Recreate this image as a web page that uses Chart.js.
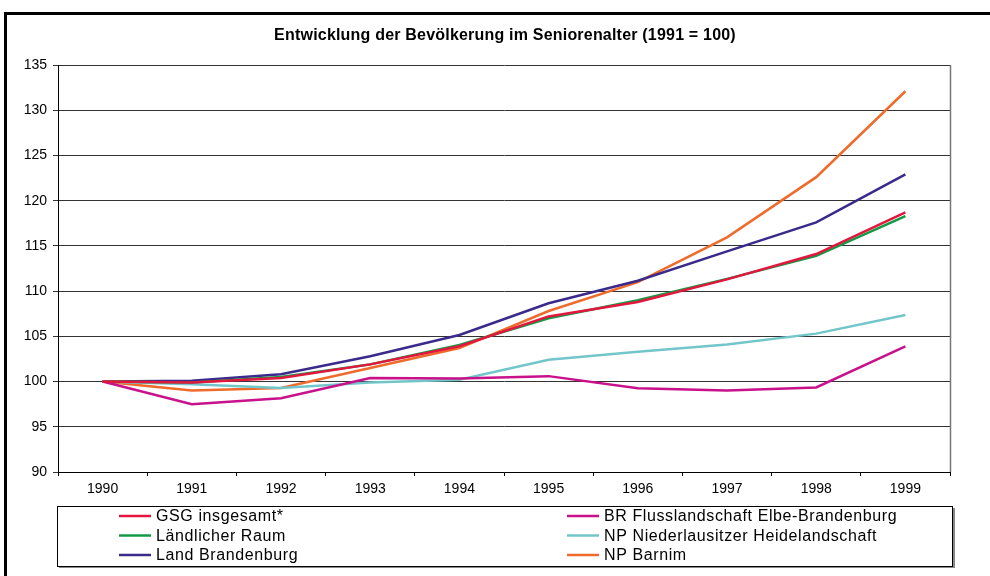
<!DOCTYPE html>
<html lang="de">
<head>
    <meta charset="UTF-8">
    <title>Entwicklung der Bevölkerung im Seniorenalter</title>
    <script src="https://cdn.jsdelivr.net/npm/chart.js"></script>
    <style>
        html, body {
            margin: 0;
            padding: 0;
            background: white;
        }
        .chart-box {
            position: relative;
            width: 990px;
            height: 576px;
        }
    </style>
</head>
<body>
    <div class="chart-box">
        <canvas id="seniorChart" width="990" height="576"></canvas>
    </div>

    <script>
        // data (1991 = 100)
        const years = ['1990', '1991', '1992', '1993', '1994', '1995', '1996', '1997', '1998', '1999'];
        const yTicks = [90, 95, 100, 105, 110, 115, 120, 125, 130, 135];

        const gsgTotal       = [100, 99.9, 100.4, 101.9, 103.9, 107.2, 108.8, 111.3, 114.1, 118.7];
        const brElbe         = [100, 97.5, 98.15, 100.4, 100.35, 100.6, 99.25, 99.0, 99.35, 103.9];
        const laendlRaum     = [100, 99.9, 100.5, 101.9, 104.05, 107.0, 109.0, 111.35, 113.9, 118.3];
        const npNiederlausitz = [100, 99.7, 99.3, 99.9, 100.2, 102.4, 103.3, 104.1, 105.3, 107.35];
        const landBrandenburg = [100, 100.1, 100.8, 102.8, 105.15, 108.65, 111.15, 114.4, 117.6, 122.9];
        const npBarnim       = [100, 99.0, 99.3, 101.5, 103.7, 107.8, 111.0, 115.95, 122.6, 132.1];

        const seriesNames = [
            'GSG insgesamt*', 'BR Flusslandschaft Elbe-Brandenburg',
            'Ländlicher Raum', 'NP Niederlausitzer Heidelandschaft',
            'Land Brandenburg', 'NP Barnim'
        ];
        const seriesData = [gsgTotal, brElbe, laendlRaum, npNiederlausitz, landBrandenburg, npBarnim];
        const seriesColors = ['#e3163e', '#c8118a', '#139a45', '#72c6ca', '#3b2a8c', '#ee6b2b'];

        const FONT = "'Liberation Sans', Arial, sans-serif";

        // frame, title, plot border and legend box
        const decorations = {
            id: 'decorations',
            beforeDraw(chart) {
                const c = chart.ctx;
                c.save();
                c.fillStyle = '#000';
                c.fillRect(4, 12, 3, 564);
                c.fillRect(4, 12, 986, 3);
                c.restore();
            },
            afterDraw(chart) {
                const c = chart.ctx;
                const a = chart.chartArea;
                c.save();
                // right border of the plot
                c.strokeStyle = '#777';
                c.lineWidth = 1.5;
                c.beginPath();
                c.moveTo(a.right + 0.5, a.top);
                c.lineTo(a.right + 0.5, a.bottom);
                c.stroke();

                // title
                c.fillStyle = '#000';
                c.font = 'bold 16px ' + FONT;
                c.letterSpacing = '0.2px';
                c.textAlign = 'center';
                c.textBaseline = 'middle';
                c.fillText('Entwicklung der Bevölkerung im Seniorenalter (1991 = 100)', 505, 36);

                // legend box with shadow
                c.fillStyle = '#888';
                c.fillRect(59, 566, 895, 2);
                c.fillRect(953, 508, 2, 60);
                c.strokeStyle = '#000';
                c.lineWidth = 1;
                c.strokeRect(57.5, 506.5, 895, 60);

                c.font = '16px ' + FONT;
                c.letterSpacing = '0.6px';
                c.textAlign = 'left';
                const colX = [119, 567];
                const rowY = [516, 535.5, 555];
                chart.data.datasets.forEach((ds, i) => {
                    const x = colX[i % 2];
                    const y = rowY[Math.floor(i / 2)];
                    c.strokeStyle = ds.borderColor;
                    c.lineWidth = 2.5;
                    c.beginPath();
                    c.moveTo(x, y);
                    c.lineTo(x + 32, y);
                    c.stroke();
                    c.fillStyle = '#000';
                    c.fillText(ds.label, x + 37, y + 1);
                });
                c.restore();
            }
        };

        const ctx = document.getElementById('seniorChart').getContext('2d');

        const seniorChart = new Chart(ctx, {
            type: 'line',
            data: {
                labels: years,
                datasets: seriesNames.map((name, i) => ({
                    label: name,
                    data: seriesData[i],
                    borderColor: seriesColors[i],
                    backgroundColor: seriesColors[i],
                    borderWidth: 2.5,
                    pointRadius: 0,
                    tension: 0,
                    fill: false
                }))
            },
            options: {
                responsive: false,
                animation: false,
                layout: {
                    padding: { top: 65, right: 40, bottom: 0, left: 0 }
                },
                plugins: {
                    legend: { display: false },
                    title: { display: false },
                    tooltip: { enabled: false }
                },
                scales: {
                    x: {
                        offset: true,
                        afterFit: s => { s.height = 104; },
                        grid: {
                            offset: true,
                            drawOnChartArea: false,
                            tickLength: 4,
                            color: '#000'
                        },
                        border: { color: '#000', width: 1 },
                        ticks: {
                            color: '#000',
                            padding: 5,
                            maxRotation: 0,
                            font: { family: FONT, size: 14 }
                        }
                    },
                    y: {
                        min: 90,
                        max: 135,
                        afterFit: s => { s.width = 58; },
                        afterBuildTicks: s => { s.ticks = yTicks.map(v => ({ value: v })); },
                        grid: {
                            color: '#333',
                            lineWidth: 1,
                            tickLength: 5
                        },
                        border: { color: '#000', width: 1 },
                        ticks: {
                            color: '#000',
                            padding: 6,
                            font: { family: FONT, size: 14 }
                        }
                    }
                }
            },
            plugins: [decorations]
        });
    </script>
</body>
</html>
